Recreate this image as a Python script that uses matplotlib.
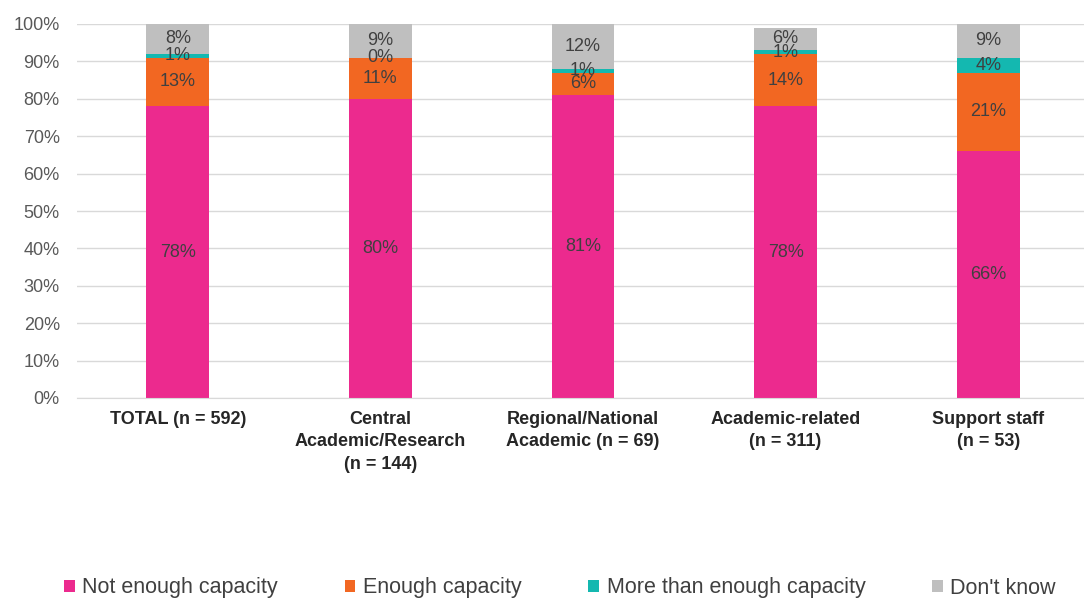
import matplotlib.pyplot as plt
import numpy as np

plt.rcParams['font.family'] = ['Liberation Sans', 'DejaVu Sans']

groups = ['TOTAL (n = 592)', 'Central\nAcademic/Research\n(n = 144)',
          'Regional/National\nAcademic (n = 69)', 'Academic-related\n(n = 311)',
          'Support staff\n(n = 53)']
not_enough = [78, 80, 81, 78, 66]
enough = [13, 11, 6, 14, 21]
more_than_enough = [1, 0, 1, 1, 4]
dont_know = [8, 9, 12, 6, 9]

series = [
    ('Not enough capacity', not_enough, '#EC2A8E'),
    ('Enough capacity', enough, '#F26722'),
    ('More than enough capacity', more_than_enough, '#14B8B0'),
    ("Don't know", dont_know, '#BFBFBF'),
]

fig = plt.figure(figsize=(10.84, 6.02), dpi=100)
ax = fig.add_axes([76.5 / 1084, 204 / 602, 1013 / 1084, 374 / 602])

x = np.arange(len(groups))
bottom = np.zeros(len(groups))
for name, vals, color in series:
    vals = np.array(vals, dtype=float)
    ax.bar(x, vals, 0.31, bottom=bottom, color=color, label=name, zorder=2)
    for xi, b, v in zip(x, bottom, vals):
        ax.text(xi, b + v / 2, f'{int(v)}%', ha='center', va='center',
                fontsize=13, color='#404040', zorder=3)
    bottom += vals

ax.set_xlim(-0.5, len(groups) - 0.5)
ax.set_ylim(0, 100)
ax.set_yticks(range(0, 101, 10))
ax.set_yticklabels([f'{t}%' for t in range(0, 101, 10)])
ax.yaxis.grid(True, color='#D9D9D9', linewidth=1, zorder=0)
ax.set_axisbelow(True)
for s in ['top', 'right', 'left']:
    ax.spines[s].set_visible(False)
ax.spines['bottom'].set_color('#D9D9D9')
ax.tick_params(axis='y', length=0, labelsize=13, labelcolor='#595959', pad=12)
ax.tick_params(axis='x', length=0, pad=9)
ax.set_xticks(x)
ax.set_xticklabels(groups, fontsize=13, fontweight='bold', color='#262626',
                   linespacing=1.45)

fig.legend(loc='center', bbox_to_anchor=(560 / 1084, 1 - 588 / 602), ncol=4,
           frameon=False, fontsize=15.5, labelcolor='#404040',
           handlelength=0.5, handleheight=0.5, handletextpad=0.35,
           columnspacing=3.1)

fig.savefig('out.png', dpi=100)
